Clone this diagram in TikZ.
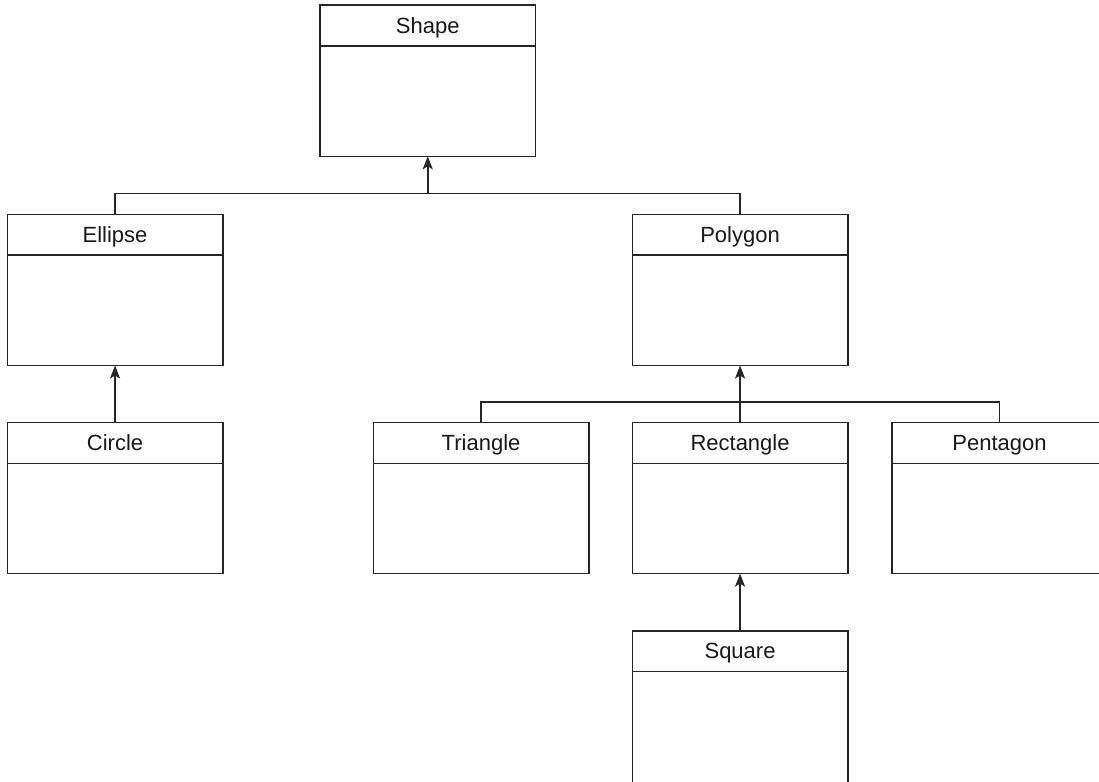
\documentclass[tikz,border=0pt]{standalone}
\usepackage{fontspec}
\setmainfont{Liberation Sans}
\usetikzlibrary{arrows.meta}
\begin{document}
\begin{tikzpicture}[x=1pt,y=-1pt,
  line width=1.6pt,
  classbody/.style={draw=black!85, rectangle, anchor=north west, minimum width=215.5pt, minimum height=151pt, inner sep=0pt, outer sep=0pt},
  classhead/.style={draw=black!85, rectangle, anchor=north, minimum width=215.5pt, minimum height=40.7pt, inner sep=0pt, outer sep=0pt,
    font=\fontsize{22}{26}\selectfont, text height=15.5pt, text depth=0pt, text=black!90},
  link/.style={draw=black!85, line width=1.6pt},
  inherit/.style={link, -{Stealth[length=13pt,width=10pt,inset=3pt]}}
]
\clip (0,0) rectangle (1099,781);
\fill[white] (0,0) rectangle (1099,781);

% class boxes
\node[classbody] (shape) at (320,5.3) {};
\node[classbody] (ellipse) at (7.3,214.5) {};
\node[classbody] (polygon) at (632.3,214.5) {};
\node[classbody] (circle) at (7.3,422.6) {};
\node[classbody] (triangle) at (373.3,422.6) {};
\node[classbody] (rectangle) at (632.3,422.6) {};
\node[classbody] (pentagon) at (891.7,422.6) {};
\node[classbody, minimum height=170pt] (square) at (632.3,630.7) {};

% headers
\node[classhead] (shapeH) at (shape.north) {Shape};
\node[classhead] (ellipseH) at (ellipse.north) {Ellipse};
\node[classhead] (polygonH) at (polygon.north) {Polygon};
\node[classhead] (circleH) at (circle.north) {Circle};
\node[classhead] (triangleH) at (triangle.north) {Triangle};
\node[classhead] (rectangleH) at (rectangle.north) {Rectangle};
\node[classhead] (pentagonH) at (pentagon.north) {Pentagon};
\node[classhead] (squareH) at (square.north) {Square};

% connectors
\coordinate (j1) at (shape.south |- 0,193.3);
\draw[link] (ellipse.north) |- (j1) -| (polygon.north);
\draw[inherit] (j1) -- (shape.south);

\draw[inherit] (circle.north) -- (ellipse.south);

\coordinate (j2) at (polygon.south |- 0,401.7);
\draw[link] (triangle.north) |- (j2) -| (pentagon.north);
\draw[link] (rectangle.north) -- (j2);
\draw[inherit] (j2) -- (polygon.south);

\draw[inherit] (square.north) -- (rectangle.south);
\end{tikzpicture}
\end{document}
